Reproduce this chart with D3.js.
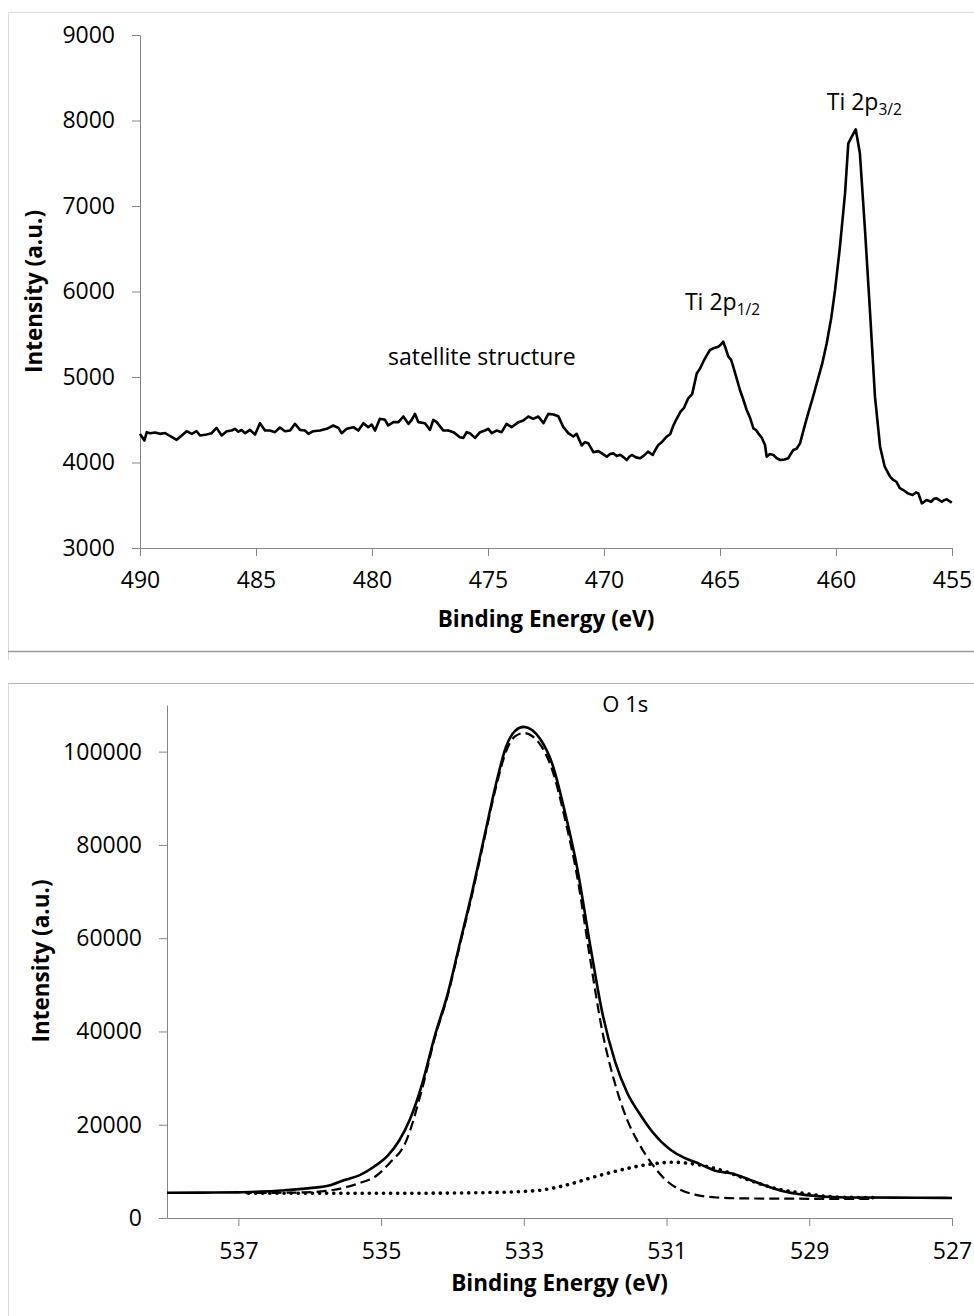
<!DOCTYPE html>
<html><head><meta charset="utf-8">
<script src="https://cdn.jsdelivr.net/npm/d3@7"></script>
<style>
body{margin:0;background:#fff;}
svg{display:block;}
text{font-family:"Open Sans",sans-serif;}
</style></head><body>
<svg id="c" width="974" height="1316"></svg>
<script>
// ---------- Ti 2p spectrum ----------
const tiEnergy = [490.0,489.81,489.71,489.57,489.35,489.14,488.92,488.71,488.42,488.20,487.99,487.77,487.56,487.41,487.13,486.91,486.70,486.48,486.26,486.05,485.91,485.76,485.62,485.47,485.26,485.04,484.83,484.61,484.40,484.18,483.97,483.75,483.53,483.32,483.10,482.89,482.74,482.53,482.24,481.95,481.67,481.45,481.31,481.09,480.80,480.59,480.37,480.16,480.01,479.87,479.66,479.44,479.30,479.08,478.86,478.65,478.43,478.29,478.15,478.00,477.72,477.50,477.36,477.21,476.93,476.71,476.49,476.21,476.06,475.92,475.78,475.56,475.34,475.13,474.99,474.84,474.63,474.41,474.20,473.98,473.69,473.48,473.26,473.05,472.83,472.61,472.40,472.18,471.97,471.75,471.54,471.32,471.18,470.96,470.82,470.68,470.46,470.24,469.88,469.74,469.6,469.45,469.3,469.15,469.02,468.9,468.8,468.62,468.45,468.28,468.1,467.9,467.78,467.66,467.5,467.3,467.15,467.0,466.85,466.7,466.55,466.37,466.2,466.0,465.86,465.72,465.58,465.43,465.25,465.07,464.96,464.86,464.75,464.64,464.52,464.43,464.28,464.14,464.0,463.85,463.7,463.56,463.45,463.35,463.2,463.06,462.99,462.85,462.7,462.55,462.4,462.22,462.06,461.95,461.84,461.7,461.55,461.38,461.2,461.0,460.83,460.6,460.4,460.2,460.04,459.83,459.61,459.47,459.32,459.15,458.97,458.75,458.53,458.32,458.1,457.9,457.67,457.55,457.4,457.25,457.1,456.9,456.7,456.55,456.45,456.3,456.2,456.1,455.9,455.78,455.66,455.44,455.33,455.23,455.01];
const tiIntensity = [4335,4257,4355,4343,4350,4335,4345,4310,4265,4316,4366,4335,4366,4316,4327,4343,4405,4316,4366,4374,4394,4360,4380,4343,4382,4327,4460,4374,4374,4355,4409,4366,4374,4452,4382,4374,4335,4366,4374,4394,4433,4405,4343,4394,4413,4374,4460,4413,4444,4374,4511,4499,4433,4472,4472,4538,4452,4499,4569,4472,4460,4382,4499,4472,4374,4374,4355,4296,4288,4355,4343,4288,4355,4374,4394,4343,4374,4355,4452,4413,4472,4491,4538,4511,4538,4460,4569,4561,4542,4413,4343,4304,4335,4199,4238,4226,4121,4133,4068,4100,4107,4075,4090,4060,4029,4070,4088,4060,4049,4080,4127,4088,4150,4205,4240,4302,4330,4439,4520,4594,4640,4751,4800,5043,5100,5179,5250,5316,5340,5355,5380,5413,5330,5238,5200,5120,4980,4848,4740,4614,4520,4400,4380,4341,4290,4205,4068,4100,4088,4050,4029,4035,4049,4100,4146,4160,4224,4400,4575,4760,4926,5150,5394,5700,6018,6524,7148,7733,7811,7897,7616,6719,5745,4770,4185,3951,3834,3800,3775,3700,3678,3639,3620,3650,3639,3522,3540,3561,3541,3575,3581,3541,3560,3569,3530];
const tiXTicks = [490,485,480,475,470,465,460,455];
const tiYTicks = [3000,4000,5000,6000,7000,8000,9000];
const tiLabelText = ["Ti 2p","Ti 2p","satellite structure"];
const tiLabelSub = ["3/2","1/2",""];
const tiLabelEnergy = [460.4,466.51,479.31];
const tiLabelIntensity = [8123,5784,5140];

// ---------- O 1s spectrum ----------
const o1sEnergy = [538.0,537.5,537.0,536.7,536.4,536.0,535.7,535.5,535.3,535.1,534.9,534.75,534.6,534.42,534.25,534.07,533.9,533.73,533.55,533.38,533.25,533.12,533.0,532.88,532.77,532.6,532.43,532.25,532.07,531.9,531.72,531.55,531.37,531.2,530.95,530.75,530.6,530.45,530.33,530.07,529.8,529.55,529.3,529.03,528.6,528.15,527.5,527.0];
const o1sEnvelope = [5400,5450,5500,5650,5900,6400,7100,8200,9200,11000,13500,16500,21000,29000,38900,47900,58700,69500,82000,93700,101000,104500,105300,104600,102700,97300,87400,74900,58500,44000,33500,26800,22200,18500,14700,12900,12000,11000,10200,9500,8000,6600,5500,4900,4450,4380,4350,4300];
const o1sMainEnergy = [536.9,536.5,536.05,535.68,535.3,535.08,534.88,534.66,534.42,534.25,534.07,533.9,533.73,533.55,533.38,533.25,533.12,533.0,532.88,532.77,532.6,532.43,532.25,532.07,531.9,531.72,531.55,531.37,531.2,531.0,530.8,530.6,530.3,529.9,529.3,528.7,528.16];
const o1sMain = [5350,5400,5500,6000,7500,8900,11800,16100,28000,38500,47500,58300,69000,81500,93000,100000,103300,104000,103300,101500,96000,86000,73000,55500,40000,28700,21000,15500,11500,8000,6000,5000,4400,4200,4150,4100,4100];
const o1sMinorEnergy = [536.9,536.0,535.0,534.0,533.5,533.0,532.75,532.4,532.0,531.64,531.2,530.9,530.54,530.17,529.8,529.44,529.07,528.7,528.11];
const o1sMinor = [5300,5300,5300,5350,5450,5700,6000,7080,8870,10300,11600,11950,11370,9940,7900,6200,5300,4570,4360];
const oXTicks = [537,535,533,531,529,527];
const oYTicks = [0,20000,40000,60000,80000,100000];
const oLabelText = ["O 1s"];
const oLabelEnergy = [531.9];
const oLabelIntensity = [108600];

const svg = d3.select("#c");
const axisColor = "#868686";

// frames
svg.append("path").attr("d","M8.5,660 V12.5 H974").attr("fill","none").attr("stroke","#d9d9d9").attr("stroke-width",1);
svg.append("line").attr("x1",8).attr("x2",974).attr("y1",651.5).attr("y2",651.5).attr("stroke","#9a9a9a").attr("stroke-width",1.5);
svg.append("path").attr("d","M8.5,1316 V683.5 H974").attr("fill","none").attr("stroke","#b4b4b4").attr("stroke-width",1);
svg.append("line").attr("x1",8.5).attr("x2",8.5).attr("y1",684).attr("y2",1316).attr("stroke","#d9d9d9");

function styleAxis(g){
  g.attr("font-family",null).attr("font-size",null);
  g.select(".domain").attr("stroke",axisColor).attr("stroke-width",1);
  g.selectAll(".tick line").attr("stroke",axisColor).attr("stroke-width",1);
  g.selectAll(".tick text").attr("fill","#000").style("font-size","23px").style("font-family","'Open Sans',sans-serif");
}

// ---------- top chart ----------
const x1 = d3.scaleLinear().domain([490,455]).range([140,952]);
const y1 = d3.scaleLinear().domain([3000,9000]).range([548,35]);

const gx1 = svg.append("g").attr("transform","translate(0,548)")
  .call(d3.axisBottom(x1).tickValues(tiXTicks).tickSize(8).tickSizeOuter(0).tickPadding(16).tickFormat(d3.format("d")));
styleAxis(gx1);
const gy1 = svg.append("g").attr("transform","translate(140,0)")
  .call(d3.axisLeft(y1).tickValues(tiYTicks).tickSize(8).tickSizeOuter(0).tickPadding(17).tickFormat(d3.format("d")));
styleAxis(gy1);

const tiData = tiEnergy.map((e,i)=>[e,tiIntensity[i]]);
svg.append("path").datum(tiData)
  .attr("d", d3.line().x(d=>x1(d[0])).y(d=>y1(d[1])))
  .attr("fill","none").attr("stroke","#000").attr("stroke-width",2.6).attr("stroke-linejoin","round");

tiLabelText.forEach((t,i)=>{
  const tx = svg.append("text").attr("x",x1(tiLabelEnergy[i])).attr("y",y1(tiLabelIntensity[i]))
    .style("font-size","23px").attr("fill","#000").text(t);
  if(tiLabelSub[i]) tx.append("tspan").attr("dy",5).style("font-size","15.5px").text(tiLabelSub[i]);
});

svg.append("text").attr("x",546).attr("y",627).attr("text-anchor","middle")
  .style("font-size","22.5px").style("font-weight","bold").text("Binding Energy (eV)");
svg.append("text").attr("transform","translate(42,291.5) rotate(-90)").attr("text-anchor","middle")
  .style("font-size","22.5px").style("font-weight","bold").text("Intensity (a.u.)");

// ---------- bottom chart ----------
const x2 = d3.scaleLinear().domain([538,527]).range([167,952]);
const y2 = d3.scaleLinear().domain([0,110000]).range([1218,705]);

const gx2 = svg.append("g").attr("transform","translate(0,1218)")
  .call(d3.axisBottom(x2).tickValues(oXTicks).tickSize(8).tickSizeOuter(0).tickPadding(17).tickFormat(d3.format("d")));
styleAxis(gx2);
const gy2 = svg.append("g").attr("transform","translate(167,0)")
  .call(d3.axisLeft(y2).tickValues(oYTicks).tickSize(8).tickSizeOuter(0).tickPadding(17).tickFormat(d3.format("d")));
styleAxis(gy2);

const line2 = d3.line().x(d=>x2(d[0])).y(d=>y2(d[1])).curve(d3.curveMonotoneX);
const minorData = o1sMinorEnergy.map((e,i)=>[e,o1sMinor[i]]).reverse();
const mainData = o1sMainEnergy.map((e,i)=>[e,o1sMain[i]]).reverse();
const envData = o1sEnergy.map((e,i)=>[e,o1sEnvelope[i]]).reverse();

svg.append("path").datum(minorData).attr("d",line2)
  .attr("fill","none").attr("stroke","#000").attr("stroke-width",3.6)
  .attr("stroke-linecap","round").attr("stroke-dasharray","0.1 7");
svg.append("path").datum(mainData).attr("d",line2)
  .attr("fill","none").attr("stroke","#000").attr("stroke-width",2.2)
  .attr("stroke-dasharray","10 5");
svg.append("path").datum(envData).attr("d",line2)
  .attr("fill","none").attr("stroke","#000").attr("stroke-width",2.6);

oLabelText.forEach((t,i)=>{
  svg.append("text").attr("x",x2(oLabelEnergy[i])).attr("y",y2(oLabelIntensity[i]))
    .style("font-size","22px").attr("fill","#000").text(t);
});

svg.append("text").attr("x",559.5).attr("y",1291).attr("text-anchor","middle")
  .style("font-size","22.5px").style("font-weight","bold").text("Binding Energy (eV)");
svg.append("text").attr("transform","translate(49,961) rotate(-90)").attr("text-anchor","middle")
  .style("font-size","22.5px").style("font-weight","bold").text("Intensity (a.u.)");
</script>
</body></html>
